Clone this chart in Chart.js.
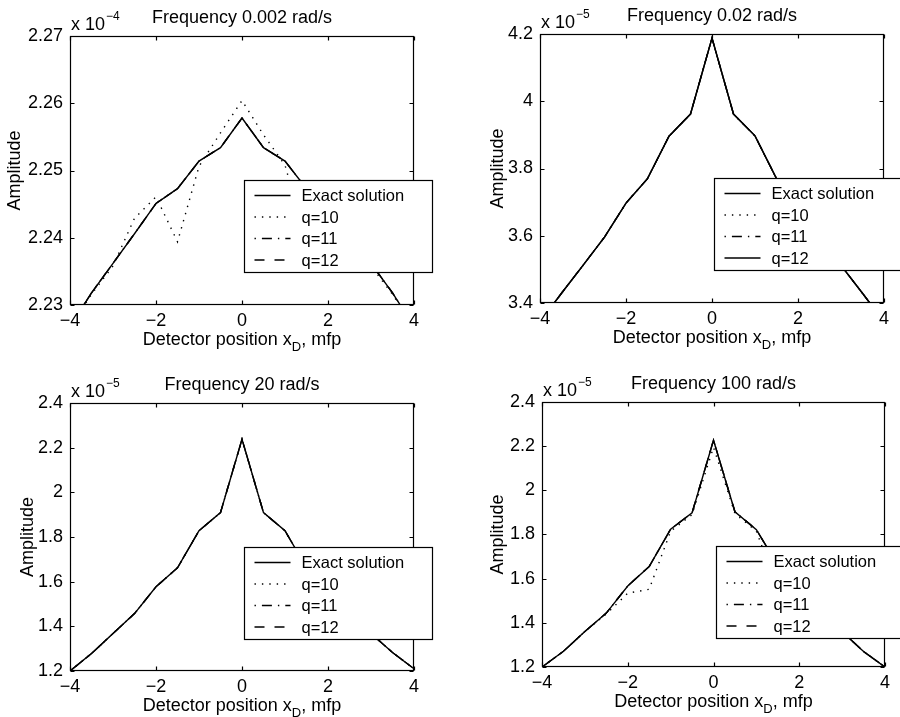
<!DOCTYPE html>
<html>
<head>
<meta charset="utf-8">
<script src="https://cdn.jsdelivr.net/npm/chart.js@4.4.0/dist/chart.umd.min.js"></script>
<style>
  body { margin: 0; background: #fff; width: 900px; height: 717px; position: relative; overflow: hidden; }
  canvas { position: absolute; }
</style>
</head>
<body>
<canvas id="c1" width="450" height="365" style="left:0;top:0"></canvas>
<canvas id="c2" width="415" height="365" style="left:485px;top:0"></canvas>
<canvas id="c3" width="436" height="362" style="left:14px;top:355px"></canvas>
<canvas id="c4" width="415" height="362" style="left:485px;top:355px"></canvas>
<script>
// detector positions (mfp)
const xPos = [-4, -3.5, -3, -2.5, -2, -1.5, -1, -0.5, 0, 0.5, 1, 1.5, 2, 2.5, 3, 3.5, 4];
const xTicks = [-4, -2, 0, 2, 4];

// Frequency 0.002 rad/s  (x 1e-4)
const exactA = [2.2268, 2.2318, 2.2362, 2.2406, 2.2451, 2.2473, 2.2514, 2.2534, 2.2578, 2.2534, 2.2514, 2.2473, 2.2451, 2.2406, 2.2362, 2.2318, 2.2268];
const q10A   = [2.2266, 2.2316, 2.2358, 2.2429, 2.2461, 2.2394, 2.2506, 2.2556, 2.2604, 2.2553, 2.2508, 2.2394, 2.2461, 2.2429, 2.2358, 2.2316, 2.2266];
const yTicksA = [2.23, 2.24, 2.25, 2.26, 2.27];

// Frequency 0.02 rad/s  (x 1e-5)
const exactB = [3.344, 3.429, 3.512, 3.596, 3.697, 3.770, 3.896, 3.962, 4.188, 3.962, 3.897, 3.770, 3.697, 3.596, 3.512, 3.429, 3.344];
const q10B   = [3.344, 3.429, 3.512, 3.596, 3.697, 3.770, 3.896, 3.962, 4.188, 3.962, 3.897, 3.770, 3.697, 3.596, 3.512, 3.429, 3.344];
const yTicksB = [3.4, 3.6, 3.8, 4, 4.2];

// Frequency 20 rad/s  (x 1e-5)
const exactC = [1.200, 1.278, 1.368, 1.457, 1.577, 1.662, 1.828, 1.909, 2.238, 1.909, 1.828, 1.662, 1.577, 1.457, 1.368, 1.283, 1.210];
const q10C   = [1.200, 1.278, 1.368, 1.457, 1.577, 1.662, 1.828, 1.909, 2.238, 1.909, 1.828, 1.662, 1.577, 1.457, 1.368, 1.283, 1.210];
const yTicksC = [1.2, 1.4, 1.6, 1.8, 2, 2.2, 2.4];

// Frequency 100 rad/s  (x 1e-5)
const exactD = [1.200, 1.271, 1.361, 1.444, 1.567, 1.655, 1.824, 1.898, 2.227, 1.903, 1.822, 1.660, 1.570, 1.445, 1.360, 1.270, 1.200];
const q10D   = [1.200, 1.271, 1.361, 1.440, 1.534, 1.552, 1.815, 1.890, 2.195, 1.895, 1.815, 1.552, 1.534, 1.440, 1.360, 1.270, 1.200];
const yTicksD = [1.2, 1.4, 1.6, 1.8, 2, 2.2, 2.4];

const FONT = '"Liberation Sans", Arial, Helvetica, sans-serif';
const DOT = [1.4, 6];
const DASHDOT = [1.4, 6, 10, 6];
const DASH = [10, 10];

function pts(arr) { return xPos.map((x, i) => ({ x: x, y: arr[i] })); }

function ds(label, arr, dash) {
  return { label: label, data: pts(arr), borderColor: '#000', borderWidth: 1.4, borderDash: dash,
           pointRadius: 0, fill: false, tension: 0 };
}

// box, inward ticks, title, exponent, xlabel with subscript, legend
const frame = {
  id: 'frame',
  afterDraw(chart, args, o) {
    const ctx = chart.ctx, a = chart.chartArea, sx = chart.scales.x, sy = chart.scales.y;
    const L = Math.round(a.left) + 0.5, R = Math.round(a.right) - 0.5;
    const T = Math.round(a.top) + 0.5, B = Math.round(a.bottom) - 0.5;
    ctx.save();
    ctx.strokeStyle = '#000'; ctx.lineWidth = 1.2; ctx.setLineDash([]);
    ctx.strokeRect(L, T, R - L, B - T);
    ctx.beginPath();
    xTicks.forEach(v => {
      const p = Math.round(sx.getPixelForValue(v)) + 0.5;
      ctx.moveTo(p, B); ctx.lineTo(p, B - 4);
      ctx.moveTo(p, T); ctx.lineTo(p, T + 4);
    });
    o.yTicks.forEach(v => {
      const p = Math.round(sy.getPixelForValue(v)) + 0.5;
      ctx.moveTo(L, p); ctx.lineTo(L + 4, p);
      ctx.moveTo(R, p); ctx.lineTo(R - 4, p);
    });
    ctx.stroke();

    ctx.fillStyle = '#000';
    ctx.textBaseline = 'alphabetic';
    // title
    ctx.font = '18px ' + FONT;
    ctx.textAlign = 'center';
    ctx.fillText(o.title, (a.left + a.right) / 2, a.top - 13);
    // exponent
    ctx.textAlign = 'left';
    ctx.font = '18px ' + FONT;
    ctx.fillText('x 10', a.left + 1, a.top - 6);
    const w10 = ctx.measureText('x 10').width;
    ctx.font = '12px ' + FONT;
    ctx.fillText(o.exp, a.left + 1 + w10 + 1, a.top - 16);
    // x label
    ctx.font = '18px ' + FONT;
    const p1 = 'Detector position x', p3 = ', mfp';
    const w1 = ctx.measureText(p1).width, w3 = ctx.measureText(p3).width;
    ctx.font = '13px ' + FONT;
    const w2 = ctx.measureText('D').width;
    let x0 = (a.left + a.right) / 2 - (w1 + w2 + w3) / 2;
    const yb = a.bottom + 40;
    ctx.font = '18px ' + FONT;
    ctx.fillText(p1, x0, yb);
    ctx.font = '13px ' + FONT;
    ctx.fillText('D', x0 + w1, yb + 6);
    ctx.font = '18px ' + FONT;
    ctx.fillText(p3, x0 + w1 + w2, yb);

    // legend
    const lx = Math.round(a.left + 174) + 0.5, ly = Math.round(a.top + 144) + 0.5;
    ctx.fillStyle = '#fff';
    ctx.fillRect(lx, ly, 188, 92);
    ctx.strokeRect(lx, ly, 188, 92);
    ctx.font = '16.5px ' + FONT;
    ctx.textBaseline = 'middle';
    chart.data.datasets.forEach((d, i) => {
      const ry = ly + 15 + i * 21.5;
      ctx.beginPath();
      ctx.setLineDash(d.borderDash);
      ctx.lineWidth = 1.4;
      ctx.moveTo(lx + 10, ry); ctx.lineTo(lx + 46, ry);
      ctx.stroke();
      ctx.setLineDash([]);
      ctx.fillStyle = '#000';
      ctx.fillText(d.label, lx + 57, ry + 1);
    });
    ctx.restore();
  }
};

function makePanel(id, c) {
  return new Chart(document.getElementById(id), {
    type: 'line',
    data: { datasets: [
      ds('Exact solution', c.exact, []),
      ds('q=10', c.q10, DOT),
      ds('q=11', c.exact, DASHDOT),
      ds('q=12', c.exact, c.q12Dash)
    ] },
    options: {
      responsive: false, animation: false,
      layout: { padding: { top: c.pt, right: c.pr, left: c.pl, bottom: 0 } },
      plugins: { legend: { display: false }, tooltip: { enabled: false },
                 frame: { title: c.title, exp: c.exp, yTicks: c.yTicks } },
      scales: {
        x: {
          type: 'linear', min: -4, max: 4,
          afterBuildTicks: s => { s.ticks = xTicks.map(v => ({ value: v })); },
          afterFit: s => { s.height = c.xh; s.paddingLeft = 0; s.paddingRight = 0; },
          grid: { display: false, drawTicks: false }, border: { display: false },
          ticks: { color: '#000', font: { size: 18, family: FONT }, padding: 5, maxRotation: 0, autoSkip: false,
                   callback: v => v < 0 ? '\u2212' + (-v) : String(v) }
        },
        y: {
          min: c.yTicks[0], max: c.yTicks[c.yTicks.length - 1],
          afterBuildTicks: s => { s.ticks = c.yTicks.map(v => ({ value: v })); },
          afterFit: s => { s.width = c.yw; s.paddingTop = 0; s.paddingBottom = 0; },
          grid: { display: false, drawTicks: false }, border: { display: false },
          title: { display: true, text: 'Amplitude', color: '#000', font: { size: 18, family: FONT }, padding: 0 },
          ticks: { color: '#000', font: { size: 18, family: FONT }, padding: 7, autoSkip: false,
                   callback: v => String(+Number(v).toFixed(3)) }
        }
      }
    },
    plugins: [frame]
  });
}

makePanel('c1', { exact: exactA, q10: q10A, yTicks: yTicksA, title: 'Frequency 0.002 rad/s', exp: '\u22124',
                  q12Dash: DASH, pl: 4, yw: 66, pr: 36, pt: 36, xh: 60 });
makePanel('c2', { exact: exactB, q10: q10B, yTicks: yTicksB, title: 'Frequency 0.02 rad/s', exp: '\u22125',
                  q12Dash: [], pl: 2, yw: 53, pr: 16, pt: 34, xh: 62 });
makePanel('c3', { exact: exactC, q10: q10C, yTicks: yTicksC, title: 'Frequency 20 rad/s', exp: '\u22125',
                  q12Dash: DASH, pl: 3, yw: 53, pr: 36, pt: 48, xh: 46 });
makePanel('c4', { exact: exactD, q10: q10D, yTicks: yTicksD, title: 'Frequency 100 rad/s', exp: '\u22125',
                  q12Dash: DASH, pl: 2, yw: 55, pr: 15, pt: 47, xh: 50 });
</script>
</body>
</html>
